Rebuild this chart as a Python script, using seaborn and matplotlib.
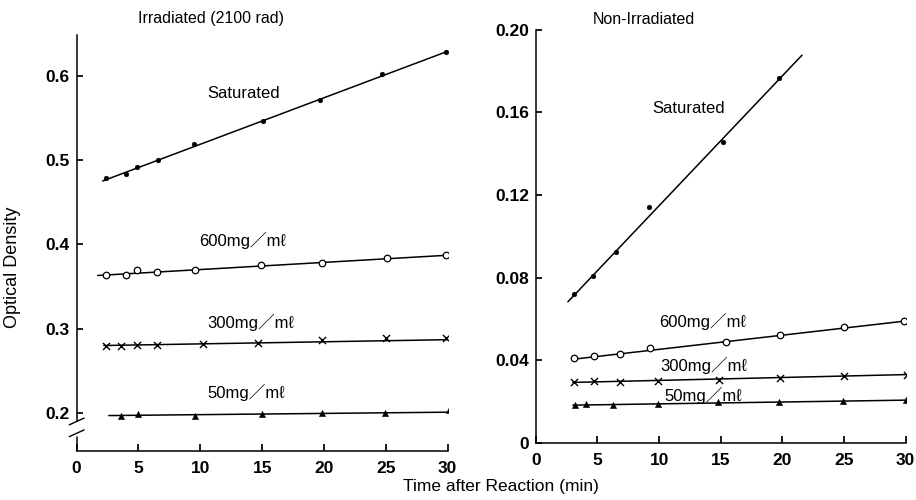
import pandas as pd
import numpy as np
from matplotlib import pyplot as plt
import seaborn as sns

# ---- Irradiated (2100 rad) : time (min) / optical density
irr_sat_t = [2.4, 4.0, 4.9, 6.6, 9.5, 15.1, 19.7, 24.7, 29.9]
irr_sat_od = [0.479, 0.483, 0.491, 0.500, 0.519, 0.546, 0.571, 0.602, 0.628]
irr_600_t = [2.4, 4.0, 4.9, 6.5, 9.6, 14.9, 19.8, 25.1, 29.9]
irr_600_od = [0.364, 0.364, 0.369, 0.367, 0.369, 0.375, 0.378, 0.384, 0.387]
irr_300_t = [2.4, 3.6, 4.9, 6.5, 10.2, 14.7, 19.8, 25.0, 29.9]
irr_300_od = [0.280, 0.280, 0.281, 0.281, 0.282, 0.283, 0.286, 0.289, 0.289]
irr_50_t = [3.6, 5.0, 9.6, 15.0, 19.8, 24.9, 30.1]
irr_50_od = [0.197, 0.199, 0.197, 0.199, 0.200, 0.200, 0.203]

# fitted lines (end points)
irr_line_t = {'Saturated': [2.1, 30.6], '600': [1.7, 30.0],
              '300': [2.2, 30.3], '50': [2.6, 30.0]}
irr_line_od = {'Saturated': [0.475, 0.632], '600': [0.363, 0.387],
               '300': [0.280, 0.287], '50': [0.197, 0.201]}

# ---- Non-irradiated
non_sat_t = [3.1, 4.65, 6.5, 9.2, 15.2, 19.7]
non_sat_od = [0.072, 0.081, 0.0925, 0.114, 0.1457, 0.1767]
non_600_t = [3.1, 4.7, 6.8, 9.3, 15.4, 19.8, 25.0, 29.9]
non_600_od = [0.041, 0.042, 0.043, 0.046, 0.0487, 0.0524, 0.056, 0.059]
non_300_t = [3.1, 4.7, 6.8, 9.9, 14.9, 19.8, 25.0, 30.1]
non_300_od = [0.0294, 0.030, 0.0294, 0.0299, 0.0306, 0.0313, 0.0326, 0.033]
non_50_t = [3.2, 4.1, 6.3, 9.9, 14.8, 19.7, 24.9, 30.0]
non_50_od = [0.0186, 0.019, 0.0186, 0.019, 0.0197, 0.0199, 0.0202, 0.021]

non_line_t = {'Saturated': [2.6, 21.6], '600': [3.0, 30.0],
              '300': [3.0, 30.8], '50': [3.0, 30.8]}
non_line_od = {'Saturated': [0.0683, 0.1876], '600': [0.0405, 0.059],
               '300': [0.0293, 0.0332], '50': [0.0183, 0.0208]}

series = ['Saturated', '600', '300', '50']
labels = {'Saturated': 'Saturated', '600': '600mg／mℓ',
          '300': '300mg／mℓ', '50': '50mg／mℓ'}
x_ticks = [0, 5, 10, 15, 20, 25, 30]
irr_y_ticks = [0.2, 0.3, 0.4, 0.5, 0.6]
irr_y_ticklabels = ['0.2', '0.3', '0.4', '0.5', '0.6']
non_y_ticks = [0, 0.04, 0.08, 0.12, 0.16, 0.20]
non_y_ticklabels = ['0', '0.04', '0.08', '0.12', '0.16', '0.20']

# label positions (time, OD) for the in-plot annotations
irr_label_pos = {'Saturated': (13.5, 0.579), '600': (13.4, 0.404),
                 '300': (14.1, 0.307), '50': (13.7, 0.224)}
non_label_pos = {'Saturated': (12.4, 0.162), '600': (13.5, 0.059),
                 '300': (13.6, 0.0377), '50': (13.6, 0.0229)}

markers = {'Saturated': dict(marker='o', s=12, color='black', edgecolor='black'),
           '600': dict(marker='o', s=22, facecolor='white', edgecolor='black', linewidth=0.9),
           '300': dict(marker='x', s=26, color='black', linewidth=1.0),
           '50': dict(marker='^', s=20, color='black', edgecolor='black')}


def make_points(ts, ods):
    rows = []
    for key, t, od in zip(series, ts, ods):
        rows += [{'series': key, 't': a, 'od': b} for a, b in zip(t, od)]
    return pd.DataFrame(rows)


irr_df = make_points([irr_sat_t, irr_600_t, irr_300_t, irr_50_t],
                     [irr_sat_od, irr_600_od, irr_300_od, irr_50_od])
non_df = make_points([non_sat_t, non_600_t, non_300_t, non_50_t],
                     [non_sat_od, non_600_od, non_300_od, non_50_od])

sns.set_theme(style='ticks')
plt.rcParams['font.family'] = ['Liberation Sans', 'DejaVu Sans', 'Noto Sans CJK JP']
plt.rcParams['text.color'] = 'black'
plt.rcParams['axes.labelcolor'] = 'black'

fig = plt.figure(figsize=(9.16, 5.0), dpi=100)
ax1 = fig.add_axes([0.0837, 0.098, 0.405, 0.832])
ax2 = fig.add_axes([0.585, 0.114, 0.4036, 0.827])


def draw_panel(ax, df, line_t, line_od, label_pos):
    for key in series:
        sub = df[df['series'] == key]
        sns.lineplot(x=line_t[key], y=line_od[key], ax=ax, color='black',
                     linewidth=1.1, zorder=2)
        sns.scatterplot(data=sub, x='t', y='od', ax=ax, zorder=3, **markers[key])
        tx, ty = label_pos[key]
        ax.text(tx, ty, labels[key], ha='center', va='center', fontsize=12)
    ax.set_xlim(0, 30)
    ax.set_xticks(x_ticks)
    ax.set_xlabel('')
    ax.set_ylabel('')
    for s in ['top', 'right']:
        ax.spines[s].set_visible(False)
    for s in ['left', 'bottom']:
        ax.spines[s].set_color('black')
        ax.spines[s].set_linewidth(1.1)
    ax.tick_params(axis='x', direction='in', length=5, labelsize=12.5, colors='black', pad=7)
    ax.tick_params(axis='y', direction='in', length=4, labelsize=12.5, colors='black', pad=5)
    for lab in ax.get_xticklabels() + ax.get_yticklabels():
        lab.set_fontweight('bold')


draw_panel(ax1, irr_df, irr_line_t, irr_line_od, irr_label_pos)
ax1.set_ylim(0.155, 0.648)
ax1.set_yticks(irr_y_ticks)
ax1.set_yticklabels(irr_y_ticklabels, fontweight='bold')
# broken axis
ax1.spines['left'].set_bounds(0.19, 0.648)
ax1.plot([0, 0], [0.155, 0.172], color='black', linewidth=1.1, clip_on=False)
for yb in [0.19, 0.176]:
    ax1.plot([-0.6, 0.6], [yb - 0.004, yb + 0.004], color='black',
             linewidth=1.0, clip_on=False)

draw_panel(ax2, non_df, non_line_t, non_line_od, non_label_pos)
ax2.set_ylim(0, 0.2)
ax2.set_yticks(non_y_ticks)
ax2.set_yticklabels(non_y_ticklabels, fontweight='bold')

fig.text(0.23, 0.962, 'Irradiated (2100 rad)', ha='center', va='center', fontsize=11.5)
fig.text(0.7025, 0.962, 'Non-Irradiated', ha='center', va='center', fontsize=11.5)
fig.text(0.014, 0.465, 'Optical Density', rotation=90, ha='center', va='center', fontsize=13)
fig.text(0.547, 0.026, 'Time after Reaction (min)', ha='center', va='center', fontsize=12.5)

fig.savefig('out.png', dpi=100, facecolor='white')
